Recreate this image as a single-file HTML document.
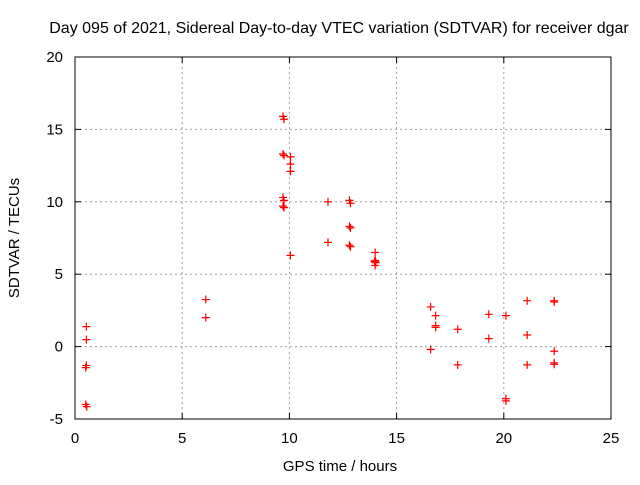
<!DOCTYPE html>
<html><head><meta charset="utf-8"><style>
body{margin:0;background:#fff}
svg text{font-family:"Liberation Sans",sans-serif;font-size:15px;fill:#000}
</style></head><body>
<svg id="chart" width="640" height="480" xmlns="http://www.w3.org/2000/svg">
<rect width="640" height="480" fill="#fff"/>
<g id="grid"></g>
<g id="axes"></g>
<g id="pts"></g>
<text x="339" y="33" text-anchor="middle" style="font-size:16px">Day 095 of 2021, Sidereal Day-to-day VTEC variation (SDTVAR) for receiver dgar</text>
<text x="340" y="471" text-anchor="middle">GPS time / hours</text>
<text transform="translate(19,238) rotate(-90)" text-anchor="middle">SDTVAR / TECUs</text>
</svg>
<script>
const xTicks=[0,5,10,15,20,25];
const yTicks=[-5,0,5,10,15,20];
const hours=[0.53,0.53,0.53,0.5,0.5,0.55,6.1,6.1,9.7,9.75,9.7,9.75,9.7,9.75,9.7,9.75,10.05,10.05,10.05,10.05,11.8,11.8,12.8,12.85,12.8,12.85,12.8,12.85,14.0,14.0,14.0,13.97,14.03,14.0,16.59,16.82,16.82,16.82,16.59,17.85,17.85,19.3,19.3,20.1,20.1,20.1,21.09,21.09,21.09,22.35,22.35,22.35,22.35,22.35];
const values=[1.38,0.48,-1.3,-1.45,-4.0,-4.15,3.25,2.0,15.9,15.7,13.3,13.2,10.3,10.1,9.7,9.6,13.1,12.6,12.1,6.3,10.0,7.2,10.1,9.9,8.3,8.2,7.0,6.9,6.5,5.85,5.6,5.9,5.8,5.95,2.74,2.14,1.45,1.33,-0.2,1.2,-1.26,2.23,0.55,2.14,-3.6,-3.75,3.17,0.8,-1.26,3.17,3.08,-0.32,-1.12,-1.22];
const L=75,R=611,T=57,B=419;
const X=h=>L+(h-0)/25*(R-L);
const Y=v=>B-(v+5)/25*(B-T);
const NS="http://www.w3.org/2000/svg";
function mk(tag,attrs,parent){const e=document.createElementNS(NS,tag);for(const k in attrs)e.setAttribute(k,attrs[k]);parent.appendChild(e);return e;}
const grid=document.getElementById('grid'),axes=document.getElementById('axes'),pts=document.getElementById('pts');
xTicks.forEach(t=>{const x=X(t);
 if(t>0&&t<25){const g=mk('line',{x1:x,x2:x,y1:T,y2:B,stroke:'#a0a0a0','stroke-dasharray':'2,3'},grid);
 
 }
 mk('line',{x1:x,x2:x,y1:B,y2:B-6,stroke:'#000'},axes);mk('line',{x1:x,x2:x,y1:T,y2:T+6,stroke:'#000'},axes);
 const tx=mk('text',{x:x,y:B+24,'text-anchor':'middle'},axes);tx.textContent=t;
 
 });
yTicks.forEach(t=>{const y=Y(t);
 if(t>-5&&t<20){const g=mk('line',{x1:L,x2:R,y1:y,y2:y,stroke:'#a0a0a0','stroke-dasharray':'2,3'},grid);
 
 }
 mk('line',{x1:L,x2:L+6,y1:y,y2:y,stroke:'#000'},axes);mk('line',{x1:R,x2:R-6,y1:y,y2:y,stroke:'#000'},axes);
 const tx=mk('text',{x:L-12,y:y+5,'text-anchor':'end'},axes);tx.textContent=t;
 
 });
const fr=mk('rect',{x:L,y:T,width:R-L,height:B-T,fill:'none',stroke:'#000'},axes);


hours.forEach((h,i)=>{const x=X(h),y=Y(values[i]);
 const p=mk('path',{d:`M${x-4},${y}H${x+4}M${x},${y-4}V${y+4}`,stroke:'#f00','stroke-width':1.2,fill:'none'},pts);
 
 });
</script>
</body></html>
